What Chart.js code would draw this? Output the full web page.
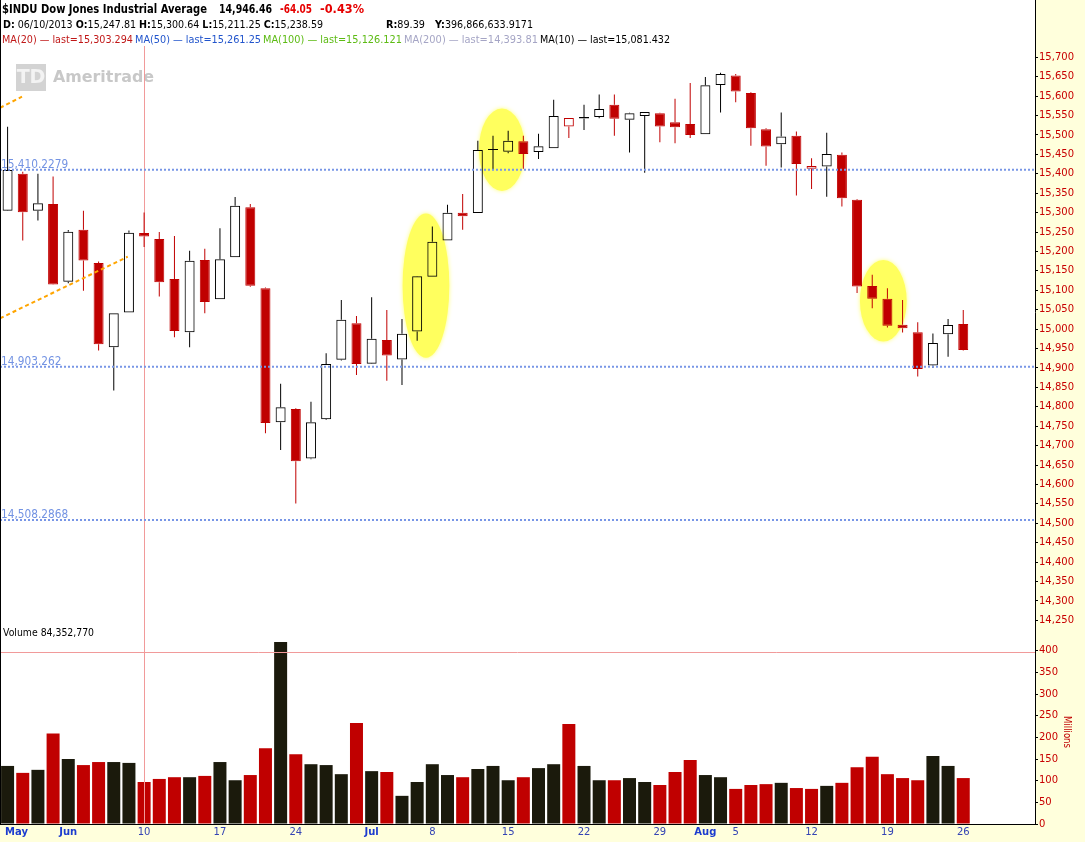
<!DOCTYPE html>
<html>
<head>
<meta charset="utf-8">
<title>$INDU Dow Jones Industrial Average</title>
<script src="https://cdn.jsdelivr.net/npm/chart.js@4.4.1/dist/chart.umd.min.js"></script>
<style>
  html, body { margin:0; padding:0; background:#FFFFDC; overflow:hidden; }
  #wrap { position:relative; width:1085px; height:842px; background:#FFFFDC; overflow:hidden; }
  #cPrice { position:absolute; left:0; top:0; }
  #cVol { position:absolute; left:0; top:624px; }
</style>
</head>
<body>
<div id="wrap">
  <canvas id="cPrice" width="1085" height="624"></canvas>
  <canvas id="cVol" width="1085" height="218"></canvas>
</div>
<script>
// ---------------- data ----------------
const dates = ['05/28','05/29','05/30','05/31','06/03','06/04','06/05','06/06','06/07','06/10','06/11','06/12','06/13','06/14','06/17','06/18','06/19','06/20','06/21','06/24','06/25','06/26','06/27','06/28','07/01','07/02','07/03','07/05','07/08','07/09','07/10','07/11','07/12','07/15','07/16','07/17','07/18','07/19','07/22','07/23','07/24','07/25','07/26','07/29','07/30','07/31','08/01','08/02','08/05','08/06','08/07','08/08','08/09','08/12','08/13','08/14','08/15','08/16','08/19','08/20','08/21','08/22','08/23','08/26'];

const openP = [15305,15400,15305,15322,15122,15256,15170,14953,15043,15247.81,
  15232,15129,14992,15178,15077,15185,15314,15105,14760,14794,
  14667,14768,14921,15015,14911,14972,14922,14994,15135,15228,
  15300,15299,15461,15457,15484,15456,15466,15522,15542.5,15546,
  15578,15539,15549,15556,15533,15528,15502,15629,15653,15608,
  15515,15476,15498,15413,15419,15449,15333,15111,15078,15011,
  14992,14906,14987,15013];
const highP = [15521,15405,15400,15393,15255,15305,15174,15041,15254,15300.64,
  15250,15240,15202,15207,15260,15340,15322,15107,14859,14796,
  14813,14938,15075,15034,15082,15049,15026,15137,15264,15320,
  15348,15485,15498,15511,15498,15503,15591,15544,15578,15604,
  15604,15557,15559,15557,15593,15634,15649,15660,15657,15610,
  15517,15558,15509,15440,15506,15455,15335,15140,15105,15075,
  15018,14989,15026,15049];
const lowP = [15304,15228,15280,15114,15118,15099,14945,14842,15043,15211.25,
  15084,14979,14953,15041,15077,15185,15109,14732,14689,14551,
  14665,14766,14919,14882,14910,14867,14856,14970,15135,15228,
  15256,15299,15410,15453,15413,15438,15466,15492,15513,15543,
  15498,15455,15403,15481,15479,15492,15502,15558,15584,15472,
  15421,15416,15344,15361,15341,15316,15093,15054,15004,14991,
  14878,14900,14929,14945];
const closeP = [15410,15301,15324,15115,15251,15177,14961,15041,15248,15238.59,
  15121,14995,15176,15070,15180,15318,15112,14758,14799,14660,
  14760,14910,15024,14910,14975,14932,14988,15136,15225,15300,
  15291,15461,15464,15485,15451,15471,15549,15543.7,15546,15567,
  15542,15556,15559,15522,15520,15500,15628,15657,15612,15517,
  15470,15496,15425,15420,15451,15337,15110,15078,15009,15002,
  14897,14964,15010.5,14946.46];
const closeBeforeFirst = 15303.1;

// volume in millions
const volumeM = [134,118,125,209,150,136,143,143,141,97,
  104,108,108,111,143,101,113,175,420,161,
  138,136,115,233,122,120,65,97,138,113,
  108,127,134,101,108,129,138,231,134,101,
  101,106,97,90,120,148,113,108,81,90,
  92,95,83,81,88,95,131,155,115,106,
  101,157,134,106];

const priceTickValues = [14250,14300,14350,14400,14450,14500,14550,14600,14650,14700,14750,14800,14850,14900,14950,
  15000,15050,15100,15150,15200,15250,15300,15350,15400,15450,15500,15550,15600,15650,15700];
const volumeTickValues = [0,50,100,150,200,250,300,350,400];

const xTickDates  = ['05/28','06/03','06/10','06/17','06/24','07/01','07/08','07/15','07/22','07/29','08/01','08/05','08/12','08/19','08/26'];
const xTickLabels = ['May','Jun','10','17','24','Jul','8','15','22','29','Aug','5','12','19','26'];
const monthLabels = ['May','Jun','Jul','Aug'];

const levelValues = [15410.2279, 14903.262, 14508.2868];
const levelLabels = ['15,410.2279', '14,903.262', '14,508.2868'];

// user-drawn trendlines (date index, price)
const trendLineA = [{x:-0.5, y:15570}, {x:0.95, y:15598.5}];
const trendLineB = [{x:-0.5, y:15027.8}, {x:7.92, y:15186.5}];

// highlighted areas (date index, price, half width in days, half height in points)
const highlightAreas = [
  {index:27.58, value:15112, halfDays:1.54, halfPoints:186},
  {index:32.59, value:15462, halfDays:1.52, halfPoints:106},
  {index:57.73, value:15073, halfDays:1.54, halfPoints:105}
];

const crosshairDate = '06/10';
const crosshairVolume = 396.8666339171;

// ---------------- styling / helpers ----------------
const RED = '#C00000';
const VOL_BLACK = '#1B1A0C';
const PALE = '#FFFFDC';
const FONT = '"DejaVu Sans", Verdana, Arial, sans-serif';
const X_MIN = -0.5, X_MAX = 67.73;

const prevClose = i => i === 0 ? closeBeforeFirst : closeP[i - 1];
const isUp = i => closeP[i] >= prevClose(i);
const candleColor = i => isUp(i) ? '#000000' : RED;
const isHollow = i => closeP[i] > openP[i];

function drawText(ctx, text, x, y, font, color, k) {
  ctx.save();
  ctx.font = font; ctx.fillStyle = color; ctx.textAlign = 'left'; ctx.textBaseline = 'alphabetic';
  ctx.translate(x, y); ctx.scale(k || 1, 1); ctx.fillText(text, 0, 0);
  ctx.restore();
}
function drawRun(ctx, segs, x0, x1, y) {
  let total = 0;
  const widths = segs.map(s => { ctx.font = s[1]; const w = ctx.measureText(s[0]).width; total += w; return w; });
  const k = (x1 - x0) / total;
  let x = x0;
  segs.forEach((s, i) => { drawText(ctx, s[0], x, y, s[1], s[2], k); x += widths[i] * k; });
}
function paintBackground(chart) {
  const {ctx, chartArea, width, height} = chart;
  ctx.save();
  ctx.fillStyle = PALE; ctx.fillRect(0, 0, width, height);
  ctx.fillStyle = '#FFFFFF'; ctx.fillRect(0, 0, chartArea.right, chartArea.bottom);
  ctx.restore();
}
function noPad(s) { s.paddingTop = 0; s.paddingBottom = 0; s.paddingLeft = 0; s.paddingRight = 0; }

const crossIndex = dates.indexOf(crosshairDate);

// ---------------- price plugins ----------------
const priceUnderlay = {
  id: 'priceUnderlay',
  beforeDraw(chart) { paintBackground(chart); },
  beforeDatasetsDraw(chart) {
    const {ctx, scales: {x, y}, chartArea} = chart;
    // watermark logo
    ctx.save();
    ctx.fillStyle = '#D3D3D3';
    ctx.fillRect(16, 64, 30, 27);
    ctx.fillStyle = '#F3F3F3';
    ctx.font = 'bold 19px ' + FONT; ctx.textAlign = 'center'; ctx.textBaseline = 'middle';
    ctx.fillText('TD', 31, 78);
    ctx.restore();
    drawRun(ctx, [['Ameritrade', 'bold 16px ' + FONT, '#C8C8C8']], 53, 154, 82);
    // highlight ellipses
    highlightAreas.forEach(e => {
      const cx = x.getPixelForValue(e.index), cy = y.getPixelForValue(e.value);
      const rx = Math.abs(x.getPixelForValue(e.index + e.halfDays) - cx);
      const ry = Math.abs(y.getPixelForValue(e.value + e.halfPoints) - cy);
      ctx.save();
      ctx.fillStyle = '#FFFF5E'; ctx.shadowColor = '#FFFF7A'; ctx.shadowBlur = 4;
      ctx.beginPath(); ctx.ellipse(cx, cy, rx, ry, 0, 0, Math.PI * 2); ctx.fill();
      ctx.restore();
    });
    // level labels
    levelValues.forEach((v, i) => {
      drawText(ctx, levelLabels[i], 1, y.getPixelForValue(v) - 2, '12px ' + FONT, '#7393E3', 0.88);
    });
    // crosshair
    ctx.save();
    ctx.strokeStyle = '#F19A9A'; ctx.lineWidth = 1;
    const cxp = Math.round(x.getPixelForValue(crossIndex)) + 0.5;
    ctx.beginPath(); ctx.moveTo(cxp, 46); ctx.lineTo(cxp, chartArea.bottom); ctx.stroke();
    ctx.restore();
  },
  afterDraw(chart) {
    const ctx = chart.ctx;
    const B12 = 'bold 12px ' + FONT, B11 = 'bold 11px ' + FONT, N11 = '11px ' + FONT;
    drawRun(ctx, [['$INDU Dow Jones Industrial Average', B12, '#000']], 2, 207, 13);
    drawRun(ctx, [['14,946.46', B12, '#000']], 219, 272, 13);
    drawRun(ctx, [['-64.05', B12, '#E60000']], 280, 312, 13);
    drawRun(ctx, [['-0.43%', B12, '#E60000']], 320, 364, 13);
    drawRun(ctx, [['D:',B11,'#000'],[' 06/10/2013 ',N11,'#000'],['O:',B11,'#000'],['15,247.81 ',N11,'#000'],
      ['H:',B11,'#000'],['15,300.64 ',N11,'#000'],['L:',B11,'#000'],['15,211.25 ',N11,'#000'],
      ['C:',B11,'#000'],['15,238.59',N11,'#000']], 3, 323, 28);
    drawRun(ctx, [['R:',B11,'#000'],['89.39',N11,'#000']], 386, 425, 28);
    drawRun(ctx, [['Y:',B11,'#000'],['396,866,633.9171',N11,'#000']], 435, 533, 28);
    drawRun(ctx, [['MA(20) \u2014 last=15,303.294', N11, '#C01818']], 2, 133, 43);
    drawRun(ctx, [['MA(50) \u2014 last=15,261.25', N11, '#2255CC']], 135, 261, 43);
    drawRun(ctx, [['MA(100) \u2014 last=15,126.121', N11, '#5DBB14']], 263, 402, 43);
    drawRun(ctx, [['MA(200) \u2014 last=14,393.81', N11, '#A5A5C5']], 404, 538, 43);
    drawRun(ctx, [['MA(10) \u2014 last=15,081.432', N11, '#000']], 540, 670, 43);
    // left frame line
    ctx.save(); ctx.fillStyle = '#000'; ctx.fillRect(0, 0, 1, chart.chartArea.bottom); ctx.restore();
  }
};

const idx = dates.map((d, i) => i);

new Chart(document.getElementById('cPrice'), {
  type: 'bar',
  data: {
    datasets: [
      ...levelValues.map(v => ({
        type: 'line', order: 1,
        data: [{x: X_MIN, y: v}, {x: X_MAX, y: v}],
        borderColor: '#7896E6', borderWidth: 2, borderDash: [2, 2],
        pointRadius: 0, fill: false, tension: 0
      })),
      { type: 'line', order: 0, data: trendLineA, borderColor: '#FFA500', borderWidth: 2,
        borderDash: [4, 3], pointRadius: 0, fill: false, tension: 0 },
      { type: 'line', order: 0, data: trendLineB, borderColor: '#FFA500', borderWidth: 2,
        borderDash: [4, 3], pointRadius: 0, fill: false, tension: 0 },
      { // lower wicks
        order: 3, grouped: false, barPercentage: 1, categoryPercentage: 1, maxBarThickness: 1, inflateAmount: 0,
        data: idx.map(i => ({x: i, y: [lowP[i], Math.min(openP[i], closeP[i])]})),
        backgroundColor: c => candleColor(c.dataIndex), borderWidth: 0
      },
      { // upper wicks
        order: 3, grouped: false, barPercentage: 1, categoryPercentage: 1, maxBarThickness: 1, inflateAmount: 0,
        data: idx.map(i => ({x: i, y: [Math.max(openP[i], closeP[i]), highP[i]]})),
        backgroundColor: c => candleColor(c.dataIndex), borderWidth: 0
      },
      { // bodies
        order: 2, grouped: false, barPercentage: 1, categoryPercentage: 1, maxBarThickness: 10, inflateAmount: 0,
        data: idx.map(i => ({x: i, y: [openP[i], closeP[i]]})),
        backgroundColor: c => isHollow(c.dataIndex) ? 'rgba(0,0,0,0)' : candleColor(c.dataIndex),
        borderColor: c => candleColor(c.dataIndex),
        borderWidth: 1, borderSkipped: false
      }
    ]
  },
  options: {
    responsive: false, animation: false, events: [], devicePixelRatio: 1,
    layout: { padding: 0, autoPadding: false },
    plugins: { legend: { display: false }, tooltip: { enabled: false } },
    scales: {
      x: { type: 'linear', min: X_MIN, max: X_MAX, offset: false, display: false },
      y: {
        position: 'right', min: 14240.6, max: 15847.6,
        afterFit(s) { s.width = 50; noPad(s); },
        afterBuildTicks(s) { s.ticks = priceTickValues.map(v => ({value: v})); },
        grid: { drawOnChartArea: false, tickLength: 3, color: '#000', tickColor: '#000' },
        border: { color: '#000', width: 1 },
        ticks: { color: '#C80000', font: { family: FONT, size: 10 }, padding: 1, autoSkip: false,
                 callback: v => Number(v).toLocaleString('en-US') }
      }
    }
  },
  plugins: [priceUnderlay]
});

// ---------------- volume ----------------
const volPlugin = {
  id: 'volPlugin',
  beforeDraw(chart) { paintBackground(chart); },
  afterDatasetsDraw(chart) {
    const {ctx, scales: {x, y}, chartArea} = chart;
    ctx.save();
    ctx.strokeStyle = '#F19A9A'; ctx.lineWidth = 1;
    const cxp = Math.round(x.getPixelForValue(crossIndex)) + 0.5;
    ctx.beginPath(); ctx.moveTo(cxp, chartArea.top); ctx.lineTo(cxp, chartArea.bottom); ctx.stroke();
    const hy = Math.round(y.getPixelForValue(crosshairVolume)) + 0.5;
    ctx.beginPath(); ctx.moveTo(chartArea.left, hy); ctx.lineTo(chartArea.right, hy); ctx.stroke();
    ctx.restore();
  },
  afterDraw(chart) {
    const {ctx, scales: {x}, chartArea} = chart;
    drawRun(ctx, [['Volume 84,352,770', '11px ' + FONT, '#000']], 3, 94, 12);
    // Millions axis title
    ctx.save();
    ctx.translate(1064, 716 - 624);
    ctx.rotate(Math.PI / 2);
    drawRun(ctx, [['Millions', '11px ' + FONT, '#C00000']], 0, 32, 0);
    ctx.restore();
    // x labels
    xTickDates.forEach((d, k) => {
      const i = dates.indexOf(d);
      const label = xTickLabels[k];
      const isMonth = monthLabels.includes(label);
      ctx.save();
      ctx.font = (isMonth ? 'bold ' : '') + '10px ' + FONT;
      const w = ctx.measureText(label).width;
      let cx = x.getPixelForValue(i);
      if (cx - w / 2 < 5) cx = 5 + w / 2;
      ctx.fillStyle = isMonth ? '#1C3CCF' : '#3444B4';
      ctx.textAlign = 'center'; ctx.textBaseline = 'alphabetic';
      ctx.fillText(label, cx, chartArea.bottom + 11);
      ctx.restore();
    });
    ctx.save(); ctx.fillStyle = '#000'; ctx.fillRect(0, 0, 1, chartArea.bottom); ctx.restore();
  }
};

new Chart(document.getElementById('cVol'), {
  type: 'bar',
  data: {
    datasets: [{
      grouped: false, barPercentage: 1, categoryPercentage: 1, maxBarThickness: 13, inflateAmount: 0,
      data: idx.map(i => ({x: i, y: volumeM[i]})),
      backgroundColor: c => isUp(c.dataIndex) ? VOL_BLACK : RED,
      borderWidth: 0
    }]
  },
  options: {
    responsive: false, animation: false, events: [], devicePixelRatio: 1,
    layout: { padding: 0, autoPadding: false },
    plugins: { legend: { display: false }, tooltip: { enabled: false } },
    scales: {
      x: { type: 'linear', min: X_MIN, max: X_MAX, offset: false,
           grid: { display: false }, border: { display: true, color: '#000', width: 1 },
           ticks: { display: false }, afterFit(s) { s.height = 18; noPad(s); } },
      y: {
        position: 'right', min: 0, max: 461.6,
        afterFit(s) { s.width = 50; noPad(s); },
        afterBuildTicks(s) { s.ticks = volumeTickValues.map(v => ({value: v})); },
        grid: { drawOnChartArea: false, tickLength: 3, color: '#000', tickColor: '#000' },
        border: { color: '#000', width: 1 },
        ticks: { color: '#C80000', font: { family: FONT, size: 10 }, padding: 1, autoSkip: false,
                 callback: v => String(v) }
      }
    }
  },
  plugins: [volPlugin]
});
</script>
</body>
</html>
